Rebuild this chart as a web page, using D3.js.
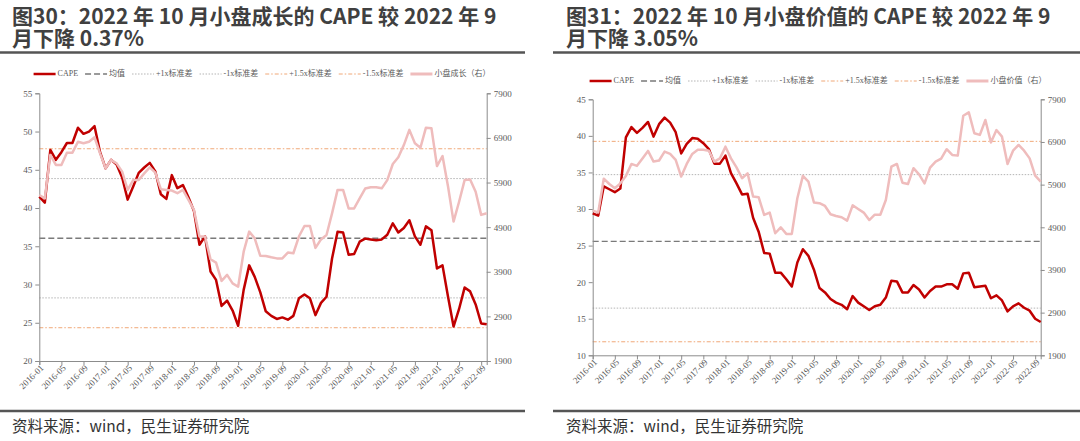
<!DOCTYPE html>
<html>
<head>
<meta charset="utf-8">
<script src="https://cdn.jsdelivr.net/npm/d3@7"></script>
<style>
  body { margin: 0; background: #fff; }
  svg { display: block; }
  .title { font-family: "Noto Sans CJK SC", "Noto Sans", sans-serif; font-weight: bold; font-size: 21px; fill: #404040; }
  .src { font-family: "Noto Sans CJK SC", sans-serif; font-size: 15.5px; fill: #333; }
  .lab { font-family: "Liberation Serif", "Noto Sans CJK SC", serif; font-size: 9px; fill: #595959; }
  .leg { font-family: "Liberation Serif", "Noto Sans CJK SC", serif; font-size: 8px; fill: #595959; }
</style>
</head>
<body>
<svg id="chart" width="1080" height="441"></svg>
<script>
// months 2016-01 .. 2022-10
const months = d3.timeMonth
  .range(new Date(2016, 0, 1), new Date(2022, 10, 1))
  .map(d3.timeFormat("%Y-%m"));

// 小盘成长 CAPE (left axis) and index (right axis)
const capeGrowth = [41.5,40.7,47.6,46.3,47.3,48.5,48.5,50.5,49.7,50.0,
  50.7,47.3,45.2,46.3,45.7,44.0,41.1,42.8,44.6,45.3,
  45.9,44.8,41.8,41.2,44.3,42.6,43.0,41.4,39.6,35.2,
  36.3,31.7,30.6,27.2,27.9,26.6,24.6,29.3,32.5,31.0,
  29.0,26.5,25.9,25.5,25.7,25.4,25.9,28.2,28.7,28.2,
  26.0,27.6,28.4,33.4,36.9,36.8,33.9,34.0,35.6,36.0,
  35.9,35.8,35.9,36.5,38.0,36.8,37.4,38.4,36.3,35.2,
  37.6,37.1,32.1,32.5,28.4,24.5,26.8,29.6,29.1,27.4,
  24.9,24.8];
const indexGrowth = [5620,5545,6520,6295,6295,6570,6570,6815,6780,6815,
  6915,6555,6220,6405,6330,6145,5735,5955,5955,6105,
  6240,6120,5750,5735,5720,5660,5735,5510,5285,4690,
  4690,4180,4105,3695,3830,3640,3565,4350,4800,4650,
  4260,4255,4225,4200,4200,4330,4315,4690,4925,4925,
  4435,4625,4725,5210,5735,5735,5320,5320,5545,5765,
  5795,5795,5770,5955,6315,6465,6740,7080,6780,6680,
  7130,7115,6270,6495,5810,5025,5470,5955,5970,5695,
  5175,5210];
// mean, +1x, -1x, +1.5x, -1.5x
const bandsGrowth = [36.05, 43.85, 28.25, 47.75, 24.35];

// 小盘价值
const capeValue = [29.4,29.1,33.1,32.7,32.3,32.8,39.8,41.2,40.4,41.1,
  41.9,39.9,41.6,42.5,41.8,40.5,37.6,38.9,39.7,39.6,
  39.0,38.2,36.2,36.2,37.3,34.9,33.5,32.0,32.1,28.8,
  26.9,24.0,23.9,21.3,21.3,20.4,19.4,22.7,24.5,23.6,
  21.7,19.2,18.6,17.7,17.2,16.9,16.3,18.1,17.2,16.7,
  16.2,16.7,16.9,17.9,20.2,20.1,18.6,18.6,19.6,19.0,
  17.9,18.8,19.4,19.4,19.7,19.7,19.1,21.2,21.3,19.3,
  19.4,19.5,17.8,18.2,17.5,16.0,16.7,17.1,16.5,16.1,
  15.0,14.55];
const indexValue = [5290,5250,6040,5915,5815,5930,6105,6385,6340,6515,
  6690,6440,6465,6675,6620,6480,6090,6385,6620,6715,
  6715,6695,6440,6515,6790,6515,6305,6050,6165,5620,
  5605,5190,5245,4760,4900,4745,4745,5580,6105,5970,
  5480,5465,5400,5205,5165,5135,5055,5415,5330,5245,
  5070,5195,5195,5540,6320,6385,5945,5915,6285,6140,
  5930,6300,6440,6510,6730,6595,6580,7515,7595,7105,
  7065,7415,6890,7180,7025,6385,6695,6830,6695,6515,
  6110,5970];
const bandsValue = [25.58, 34.7, 16.45, 39.25, 11.85];

const legendNames = ["CAPE", "均值", "+1x标准差", "-1x标准差", "+1.5x标准差", "-1.5x标准差"];

const red = "#c00000", pink = "#efbcbc";
const bandStyle = [
  { color: "#7a7a7a", dash: "6,3", w: 1.4 },
  { color: "#b4b4b4", dash: "1.5,1.5", w: 1 },
  { color: "#b4b4b4", dash: "1.5,1.5", w: 1 },
  { color: "#f0a878", dash: "4,2,1.5,2", w: 1 },
  { color: "#f0a878", dash: "4,2,1.5,2", w: 1 }
];

const panels = [
  { x0: 39.3, x1: 486.7, y0: 93.3, y1: 361, yDom: [20, 55], cape: capeGrowth, idx: indexGrowth,
    bands: bandsGrowth, t1: "图30：2022 年 10 月小盘成长的 CAPE 较 2022 年 9", t2: "月下降 0.37%",
    tx: 12, rule: [0, 525], legY: 74, legC: 262, pinkName: "小盘成长（右）" },
  { x0: 592.7, x1: 1040.7, y0: 99.3, y1: 355.3, yDom: [10, 45], cape: capeValue, idx: indexValue,
    bands: bandsValue, t1: "图31：2022 年 10 月小盘价值的 CAPE 较 2022 年 9", t2: "月下降 3.05%",
    tx: 566, rule: [553, 1080], legY: 81, legC: 818, pinkName: "小盘价值（右）" }
];

const svg = d3.select("#chart");

panels.forEach(p => {
  const g = svg.append("g");

  // title (two lines in one text) + rules + source
  const title = g.append("text").attr("class", "title").attr("x", p.tx).attr("y", 23.5);
  title.append("tspan").attr("x", p.tx).text(p.t1);
  title.append("tspan").attr("x", p.tx).attr("dy", 22.5).text(p.t2);
  g.append("line").attr("x1", p.rule[0]).attr("x2", p.rule[1]).attr("y1", 52.5).attr("y2", 52.5)
    .attr("stroke", "#555").attr("stroke-width", 2.5);
  g.append("line").attr("x1", p.rule[0]).attr("x2", p.rule[1]).attr("y1", 411).attr("y2", 411)
    .attr("stroke", "#555").attr("stroke-width", 2.5);
  g.append("text").attr("class", "src").attr("x", p.tx).attr("y", 432).text("资料来源：wind，民生证券研究院");

  const x = d3.scalePoint().domain(months).range([p.x0, p.x1]);
  const y = d3.scaleLinear().domain(p.yDom).range([p.y1, p.y0]);
  const yr = d3.scaleLinear().domain([1900, 7900]).range([p.y1, p.y0]);

  // band lines
  p.bands.forEach((v, i) => {
    const s = bandStyle[i];
    g.append("line").attr("x1", p.x0).attr("x2", p.x1).attr("y1", y(v)).attr("y2", y(v))
      .attr("stroke", s.color).attr("stroke-width", s.w).attr("stroke-dasharray", s.dash);
  });

  // axes
  const yAxis = g.append("g").attr("transform", `translate(${p.x0},0)`)
    .call(d3.axisLeft(y).tickValues(d3.range(p.yDom[0], p.yDom[1] + 1, 5)).tickSize(4).tickPadding(3));
  const rAxis = g.append("g").attr("transform", `translate(${p.x1},0)`)
    .call(d3.axisRight(yr).tickValues(d3.range(1900, 7901, 1000)).tickFormat(d3.format("d"))
      .tickSize(4).tickPadding(3));
  const xAxis = g.append("g").attr("transform", `translate(0,${p.y1})`)
    .call(d3.axisBottom(x).tickValues(months.filter((m, i) => i % 4 === 0)).tickSize(4));
  xAxis.selectAll(".tick text").remove();
  xAxis.selectAll(".tick").append("text").attr("class", "lab")
    .attr("transform", "translate(3,6) rotate(-45)")
    .attr("text-anchor", "end").attr("dominant-baseline", "middle")
    .text(d => d);
  [yAxis, rAxis, xAxis].forEach(a => {
    a.selectAll("path, line").attr("stroke", "#8c8c8c");
    a.selectAll("text").attr("class", "lab").attr("fill", null);
  });

  // series
  const line = scale => d3.line().x((d, i) => x(months[i])).y(d => scale(d));
  g.append("path").datum(p.cape).attr("d", line(y)).attr("fill", "none")
    .attr("stroke", red).attr("stroke-width", 2.5).attr("stroke-linejoin", "round");
  g.append("path").datum(p.idx).attr("d", line(yr)).attr("fill", "none")
    .attr("stroke", pink).attr("stroke-width", 2.5).attr("stroke-linejoin", "round");

  // legend
  const items = [
    { name: legendNames[0], color: red, w: 2.5, dash: null },
    ...bandStyle.map((s, i) => ({ name: legendNames[i + 1], color: s.color, w: s.w, dash: s.dash })),
    { name: p.pinkName, color: pink, w: 3, dash: null }
  ];
  const leg = g.append("g");
  let cx = 0;
  items.forEach(it => {
    const ig = leg.append("g").attr("transform", `translate(${cx},0)`);
    ig.append("line").attr("x1", 0).attr("x2", 22).attr("stroke", it.color)
      .attr("stroke-width", it.w).attr("stroke-dasharray", it.dash);
    const t = ig.append("text").attr("class", "leg").attr("x", 24).attr("dominant-baseline", "middle").text(it.name);
    cx += 24 + t.node().getComputedTextLength() + 7;
  });
  cx -= 7;
  leg.attr("transform", `translate(${p.legC - cx / 2},${p.legY})`);
});
</script>
</body>
</html>
